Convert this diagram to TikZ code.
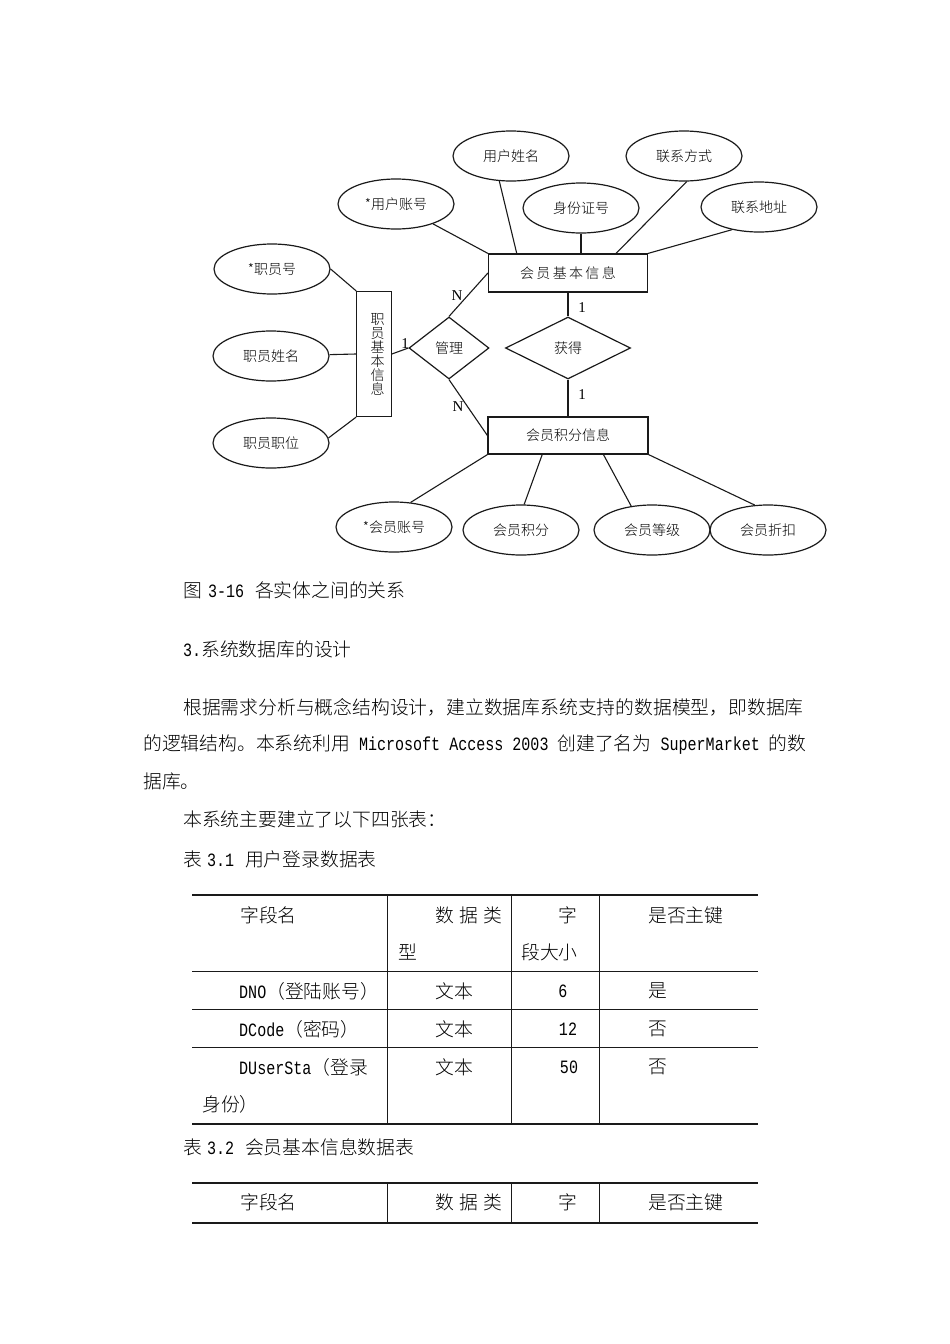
\documentclass[tikz,border=0pt]{standalone}
\usepackage{fontspec}
\setmainfont{Noto Sans CJK SC Light}
\newfontfamily\cardfont{Liberation Serif}
\newfontfamily\latfont[FakeStretch=0.8]{Liberation Mono}
\usetikzlibrary{calc,shapes.geometric}
\definecolor{ink}{HTML}{1A1A1A}
\newcommand{\dfont}{\fontsize{14}{14}\selectfont}
\newcommand{\bfont}{\fontsize{18.8}{22}\selectfont}
\newcommand{\lat}{\latfont\fontsize{18.8}{22}\selectfont}

\begin{document}
\begin{tikzpicture}[x=1pt,y=-1pt,
  attr/.style={draw=ink,ellipse,line width=1.2pt,minimum width=116pt,minimum height=50pt,inner sep=0pt,font=\dfont},
  entity/.style={draw=ink,rectangle,line width=1.2pt,inner sep=0pt,font=\dfont},
  rel/.style={draw=ink,diamond,line width=1.2pt,inner sep=0pt,font=\dfont},
  link/.style={draw=ink,line width=1.1pt},
  card/.style={inner sep=0pt,font=\cardfont\fontsize{15}{15}\selectfont},
  body/.style={anchor=west,inner sep=0pt,font=\bfont},
  cell/.style={inner sep=0pt,font=\bfont}]
  \fill[white] (0,0) rectangle (950,1344);
  \useasboundingbox (0,0) rectangle (950,1344);

  % attributes of the member
  \node[attr] (uname) at (511,156) {用户姓名};
  \node[attr] (phone) at (684,156) {联系方式};
  \node[attr] (uacct) at (396,204) {*用户账号};
  \node[attr] (idno) at (581,208) {身份证号};
  \node[attr] (addr) at (759,207) {联系地址};

  % attributes of the staff
  \node[attr] (sno) at (272,269) {*职员号};
  \node[attr] (sname) at (271,356) {职员姓名};
  \node[attr] (spos) at (271,443) {职员职位};

  % attributes of the points
  \node[attr] (macct) at (394,527) {*会员账号};
  \node[attr] (mpts) at (521,530) {会员积分};
  \node[attr] (mlevel) at (652,530) {会员等级};
  \node[attr] (mdisc) at (768,530) {会员折扣};

  % entities and relations
  \node[entity,minimum width=159pt,minimum height=38pt] (mbasic) at (568,273) {会\,员\,基\,本\,信\,息};
  \node[entity,minimum width=160pt,minimum height=37pt] (mscore) at (568,435.5) {会员积分信息};
  \node[entity,minimum width=34.5pt,minimum height=125pt,align=center] (staff) at (374,354) {\hspace*{7pt}职\\\hspace*{7pt}员\\\hspace*{7pt}基\\\hspace*{7pt}本\\\hspace*{7pt}信\\\hspace*{7pt}息};
  \node[rel,minimum width=80pt,minimum height=62pt] (manage) at (449,348) {管理};
  \node[rel,minimum width=125pt,minimum height=62pt] (gain) at (568,348) {获得};

  % connectors
  \draw[link] (uacct) -- (mbasic.north west);
  \draw[link] (uname.245) -- ($(mbasic.north west)!0.18!(mbasic.north east)$);
  \draw[link] (idno) -- (idno |- mbasic.north);
  \draw[link] (phone.276) -- ($(mbasic.north west)!0.8!(mbasic.north east)$);
  \draw[link] (addr.220) -- (mbasic.north east);
  \draw[link] (sno.east) -- (staff.north west);
  \draw[link] (sname) -- (staff.west);
  \draw[link] (spos.5) -- (staff.south west);
  \draw[link] (staff.east) -- (manage.west);
  \draw[link] (manage.north) -- (mbasic.west);
  \draw[link] (manage.south) -- (mscore.west);
  \draw[link] (mbasic) -- (gain);
  \draw[link] (gain) -- (mscore);
  \draw[link] (macct.56) -- (mscore.south west);
  \draw[link] (mpts.83) -- ($(mscore.south west)!0.34!(mscore.south east)$);
  \draw[link] (mlevel.131) -- ($(mscore.south west)!0.72!(mscore.south east)$);
  \draw[link] (mdisc.118) -- (mscore.south east);

  % cardinalities
  \node[card] (n1) at (457,296) {N};
  \node[card] (one1) at (405,344) {1};
  \node[card] (n2) at (458,407) {N};
  \node[card] (one2) at (582,308) {1};
  \node[card] (one3) at (582,395) {1};

  % running text
  \node[body] (cap) at (183,590) {图\hspace{6pt}{\lat 3-16}\hspace{11pt}各实体之间的关系};
  \node[body] (sec) at (183,649) {{\lat 3.}系统数据库的设计};
  \node[body] (p1) at (183,707) {根据需求分析与概念结构设计，建立数据库系统支持的数据模型，即数据库};
  \node[body] (p2) at (143,745) {的逻辑结构。本系统利用{\lat{} Microsoft Access 2003 }创建了名为{\lat{} SuperMarket }的数};
  \node[body] (p3) at (143,781) {据库。};
  \node[body] (p4) at (183,819) {本系统主要建立了以下四张表：};
  \node[body] (t1cap) at (183,859) {表\hspace{5pt}{\lat 3.1}\hspace{11pt}用户登录数据表};

  % table 3.1
  \foreach \y/\w in {895/2.6pt,971.5/1.8pt,1009.5/1.8pt,1047.5/1.8pt,1124/2.6pt}
    \draw[ink,line width=\w] (192,\y) -- (758,\y);
  \foreach \x in {387.5,511.5,599.5}
    \draw[ink,line width=1.4pt] (\x,895) -- (\x,1124);
  \node[cell,anchor=west] (h1) at (240,915) {字段名};
  \node[cell,anchor=east] (h2) at (502.5,915) {数\hspace{5pt}据\hspace{5pt}类};
  \node[cell,anchor=west] (h2b) at (398,952) {型};
  \node[cell] (h3) at (568,915) {字};
  \node[cell,anchor=west] (h3b) at (521,952) {段大小};
  \node[cell,anchor=west] (h4) at (648,915) {是否主键};
  \node[cell,anchor=west] (r1a) at (239,991) {{\lat DNO}（登陆账号）};
  \node[cell,anchor=west] (r1b) at (435,991) {文本};
  \node[cell] (r1c) at (563,991) {{\lat 6}};
  \node[cell,anchor=west] (r1d) at (648,991) {是};
  \node[cell,anchor=west] (r2a) at (239,1029) {{\lat DCode}（密码）};
  \node[cell,anchor=west] (r2b) at (435,1029) {文本};
  \node[cell] (r2c) at (568,1029) {{\lat 12}};
  \node[cell,anchor=west] (r2d) at (648,1029) {否};
  \node[cell,anchor=west] (r3a) at (239,1067) {{\lat DUserSta}（登录};
  \node[cell,anchor=west] (r3a2) at (202,1104) {身份）};
  \node[cell,anchor=west] (r3b) at (435,1067) {文本};
  \node[cell] (r3c) at (569,1067) {{\lat 50}};
  \node[cell,anchor=west] (r3d) at (648,1067) {否};

  % table 3.2
  \node[body] (t2cap) at (183,1147) {表\hspace{5pt}{\lat 3.2}\hspace{11pt}会员基本信息数据表};
  \draw[ink,line width=2.6pt] (192,1183) -- (758,1183);
  \draw[ink,line width=1.4pt] (192,1223) -- (758,1223);
  \foreach \x in {387.5,511.5,599.5}
    \draw[ink,line width=1.4pt] (\x,1183) -- (\x,1223);
  \node[cell,anchor=west] (k1) at (240,1202) {字段名};
  \node[cell,anchor=east] (k2) at (502.5,1202) {数\hspace{5pt}据\hspace{5pt}类};
  \node[cell] (k3) at (568,1202) {字};
  \node[cell,anchor=west] (k4) at (648,1202) {是否主键};
\end{tikzpicture}
\end{document}
